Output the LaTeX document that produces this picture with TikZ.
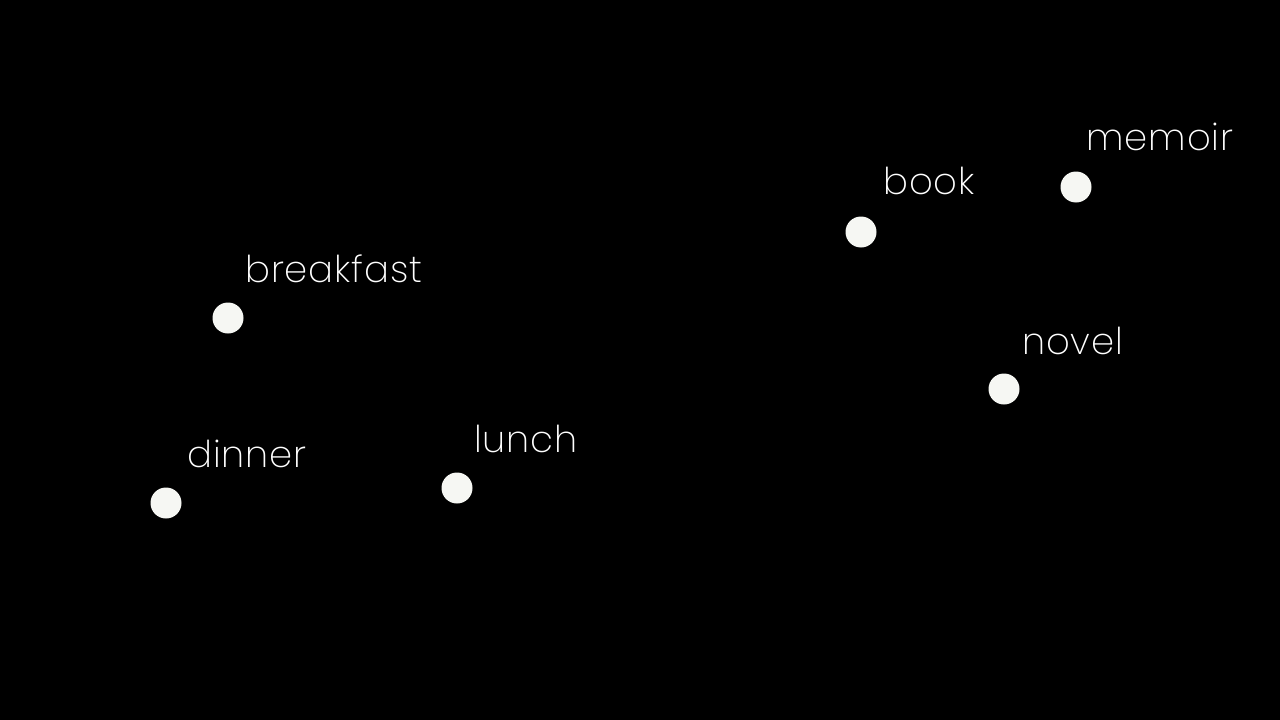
\documentclass[tikz,border=0pt]{standalone}
\usepackage{fontspec}
\setmainfont{Poppins}[UprightFont=* ExtraLight,LetterSpace=2.5]
\definecolor{dotcol}{HTML}{F6F7F3}
\begin{document}
\begin{tikzpicture}[x=1pt,y=-1pt,
  dot/.style={circle,fill=dotcol,draw=none,minimum size=31pt,inner sep=0pt},
  word/.style={anchor=base west,text=white,inner sep=0pt,font=\fontsize{37}{40}\selectfont}]
\fill[black] (0,0) rectangle (1280,720);
\useasboundingbox (0,0) rectangle (1280,720);
\node[dot] (breakfast) at (228,318) {};
\node[dot] (dinner) at (166,503) {};
\node[dot] (lunch) at (457,488) {};
\node[dot] (book) at (861,232) {};
\node[dot] (memoir) at (1076,187) {};
\node[dot] (novel) at (1004,389) {};
\node[word] (lbreakfast) at (245,282) {breakfast};
\node[word] (ldinner) at (187,467) {dinner};
\node[word] (llunch) at (474,452) {lunch};
\node[word] (lbook) at (883,194) {book};
\node[word] (lmemoir) at (1086,150) {memoir};
\node[word] (lnovel) at (1022,354) {novel};
\end{tikzpicture}
\end{document}
